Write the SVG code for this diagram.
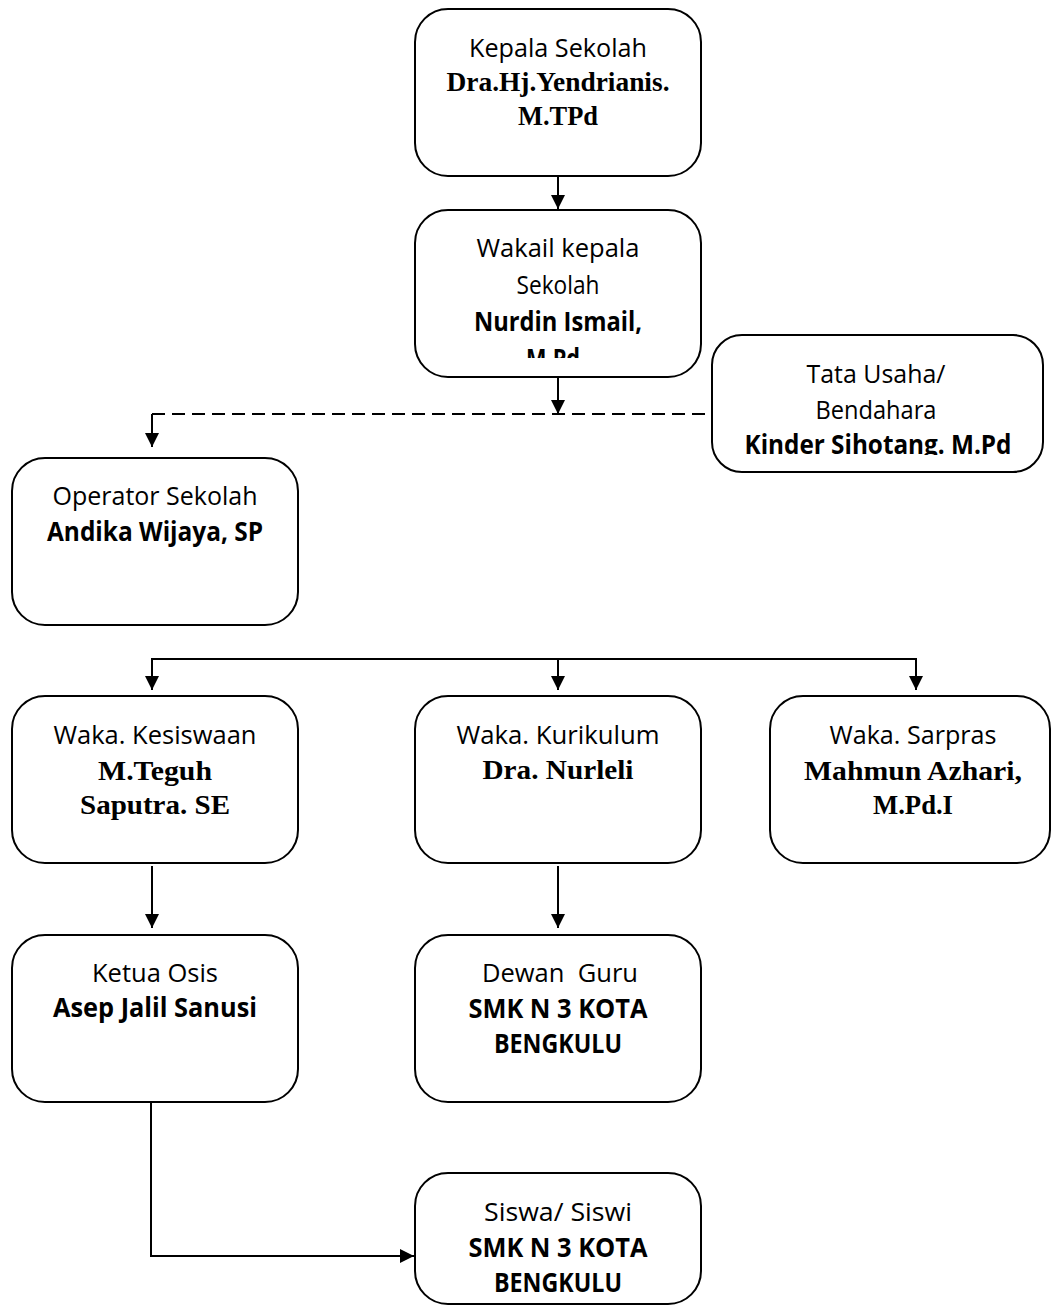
<svg xmlns="http://www.w3.org/2000/svg" width="1051" height="1307" viewBox="0 0 1051 1307">
<style>
.box{fill:#fff;stroke:#000;stroke-width:2}
.s{font-family:"Open Sans","Liberation Sans",sans-serif;font-size:26px;fill:#000;text-anchor:middle}
.sb{font-family:"Open Sans","Liberation Sans",sans-serif;font-size:26px;font-weight:bold;fill:#000;text-anchor:middle}
.tb{font-family:"Liberation Serif","Times New Roman",serif;font-size:27px;font-weight:bold;fill:#000;text-anchor:middle}
.ln{fill:none;stroke:#000;stroke-width:2}
.dash{fill:none;stroke:#000;stroke-width:2;stroke-dasharray:13 7}
</style>
<defs>
<marker id="arr" viewBox="0 0 10 10" refX="10" refY="5" markerWidth="14" markerHeight="14" markerUnits="userSpaceOnUse" orient="auto">
<path d="M0,0 L10,5 L0,10 z" fill="#000"/>
</marker>
<clipPath id="clipWakil"><rect x="415" y="210" width="286" height="148"/></clipPath>
<clipPath id="clipTata"><rect x="712" y="335" width="331" height="120"/></clipPath>
</defs>

<g id="connectors">
<line class="ln" x1="558" y1="176" x2="558" y2="209" marker-end="url(#arr)"/>
<line class="ln" x1="558" y1="377" x2="558" y2="414" marker-end="url(#arr)"/>
<line class="dash" x1="152" y1="414" x2="712" y2="414"/>
<line class="ln" x1="152" y1="414" x2="152" y2="447" marker-end="url(#arr)"/>
<line class="ln" x1="152" y1="659" x2="916" y2="659"/>
<line class="ln" x1="152" y1="658" x2="152" y2="690" marker-end="url(#arr)"/>
<line class="ln" x1="558" y1="659" x2="558" y2="690" marker-end="url(#arr)"/>
<line class="ln" x1="916" y1="658" x2="916" y2="690" marker-end="url(#arr)"/>
<line class="ln" x1="152" y1="866" x2="152" y2="928" marker-end="url(#arr)"/>
<line class="ln" x1="558" y1="866" x2="558" y2="928" marker-end="url(#arr)"/>
<polyline class="ln" points="151,1102 151,1256 414,1256" marker-end="url(#arr)"/>
</g>

<g id="kepala">
<rect class="box" x="415" y="9" width="286" height="167" rx="33"/>
<text class="s" x="558" y="57" textLength="178" lengthAdjust="spacingAndGlyphs">Kepala Sekolah</text>
<text class="tb" x="558" y="91" textLength="223" lengthAdjust="spacingAndGlyphs">Dra.Hj.Yendrianis.</text>
<text class="tb" x="558" y="125" textLength="80" lengthAdjust="spacingAndGlyphs">M.TPd</text>
</g>

<g id="wakil">
<rect class="box" x="415" y="210" width="286" height="167" rx="33"/>
<g clip-path="url(#clipWakil)">
<text class="s" x="558" y="257" textLength="163" lengthAdjust="spacingAndGlyphs">Wakail kepala</text>
<text class="s" x="558" y="294" textLength="83" lengthAdjust="spacingAndGlyphs">Sekolah</text>
<text class="sb" x="558" y="331" textLength="168" lengthAdjust="spacingAndGlyphs">Nurdin Ismail,</text>
<text class="sb" x="553" y="368" textLength="54" lengthAdjust="spacingAndGlyphs">M.Pd</text>
</g>
</g>

<g id="tatausaha">
<rect class="box" x="712" y="335" width="331" height="137" rx="30"/>
<g clip-path="url(#clipTata)">
<text class="s" x="876" y="383" textLength="139" lengthAdjust="spacingAndGlyphs">Tata Usaha/</text>
<text class="s" x="876" y="419" textLength="121" lengthAdjust="spacingAndGlyphs">Bendahara</text>
<text class="sb" x="878" y="454" textLength="267" lengthAdjust="spacingAndGlyphs">Kinder Sihotang. M.Pd</text>
</g>
</g>

<g id="operator">
<rect class="box" x="12" y="458" width="286" height="167" rx="33"/>
<text class="s" x="155" y="505" textLength="205" lengthAdjust="spacingAndGlyphs">Operator Sekolah</text>
<text class="sb" x="155" y="541" textLength="216" lengthAdjust="spacingAndGlyphs">Andika Wijaya, SP</text>
</g>

<g id="kesiswaan">
<rect class="box" x="12" y="696" width="286" height="167" rx="33"/>
<text class="s" x="155" y="744" textLength="203" lengthAdjust="spacingAndGlyphs">Waka. Kesiswaan</text>
<text class="tb" x="155" y="780" textLength="114" lengthAdjust="spacingAndGlyphs">M.Teguh</text>
<text class="tb" x="155" y="814" textLength="150" lengthAdjust="spacingAndGlyphs">Saputra. SE</text>
</g>

<g id="kurikulum">
<rect class="box" x="415" y="696" width="286" height="167" rx="33"/>
<text class="s" x="558" y="744" textLength="203" lengthAdjust="spacingAndGlyphs">Waka. Kurikulum</text>
<text class="tb" x="558" y="779" textLength="151" lengthAdjust="spacingAndGlyphs">Dra. Nurleli</text>
</g>

<g id="sarpras">
<rect class="box" x="770" y="696" width="280" height="167" rx="33"/>
<text class="s" x="913" y="744" textLength="167" lengthAdjust="spacingAndGlyphs">Waka. Sarpras</text>
<text class="tb" x="913" y="780" textLength="218" lengthAdjust="spacingAndGlyphs">Mahmun Azhari,</text>
<text class="tb" x="913" y="814" textLength="80" lengthAdjust="spacingAndGlyphs">M.Pd.I</text>
</g>

<g id="ketuaosis">
<rect class="box" x="12" y="935" width="286" height="167" rx="33"/>
<text class="s" x="155" y="982" textLength="126" lengthAdjust="spacingAndGlyphs">Ketua Osis</text>
<text class="sb" x="155" y="1017" textLength="204" lengthAdjust="spacingAndGlyphs">Asep Jalil Sanusi</text>
</g>

<g id="dewanguru">
<rect class="box" x="415" y="935" width="286" height="167" rx="33"/>
<text class="s" x="560" y="982" textLength="156" lengthAdjust="spacingAndGlyphs" style="white-space:pre">Dewan  Guru</text>
<text class="sb" x="558" y="1018" textLength="179" lengthAdjust="spacingAndGlyphs">SMK N 3 KOTA</text>
<text class="sb" x="558" y="1053" textLength="128" lengthAdjust="spacingAndGlyphs">BENGKULU</text>
</g>

<g id="siswa">
<rect class="box" x="415" y="1173" width="286" height="131" rx="33"/>
<text class="s" x="558" y="1221" textLength="148" lengthAdjust="spacingAndGlyphs">Siswa/ Siswi</text>
<text class="sb" x="558" y="1257" textLength="179" lengthAdjust="spacingAndGlyphs">SMK N 3 KOTA</text>
<text class="sb" x="558" y="1292" textLength="128" lengthAdjust="spacingAndGlyphs">BENGKULU</text>
</g>
</svg>
